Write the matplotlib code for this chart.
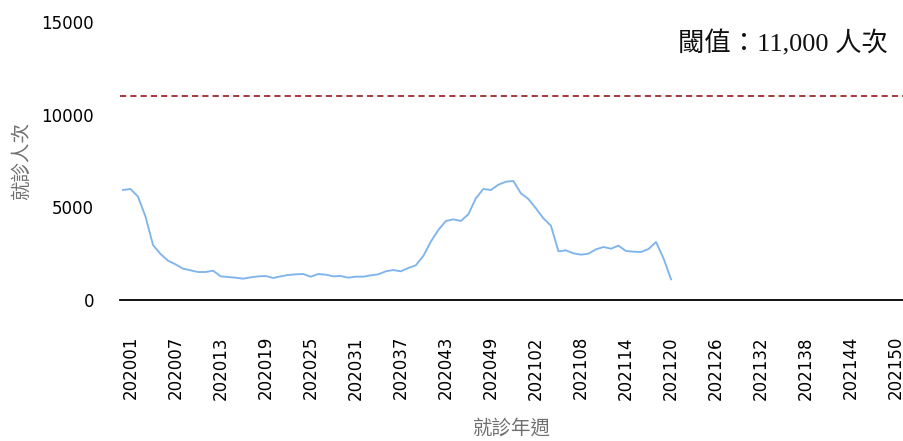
import matplotlib
matplotlib.use("Agg")
import matplotlib.pyplot as plt

# ---- data ----
weeks_2020 = [f"2020{w:02d}" for w in range(1, 54)]
weeks_2021 = [f"2021{w:02d}" for w in range(1, 53)]
weeks = ["201952"] + weeks_2020 + weeks_2021

visits = [5935, 5990, 5575, 4495, 2967, 2482, 2122, 1924, 1690, 1600,
          1510, 1510, 1582, 1276, 1240, 1205, 1150, 1222, 1276, 1295,
          1187, 1276, 1349, 1385, 1403, 1258, 1403, 1367, 1276, 1295,
          1205, 1258, 1258, 1330, 1385, 1546, 1618, 1546, 1726, 1870,
          2374, 3148, 3776, 4262, 4352, 4262, 4622, 5485, 5990, 5935,
          6220, 6384, 6420, 5755, 5449, 4946, 4406, 4010, 2625, 2679,
          2518, 2446, 2500, 2733, 2859, 2769, 2931, 2643, 2607, 2590,
          2751, 3129, 2248, 1115]

threshold = 11000
threshold_label = "閾值：11,000 人次"
tick_weeks = ["202001", "202007", "202013", "202019", "202025", "202031",
              "202037", "202043", "202049", "202102", "202108", "202114",
              "202120", "202126", "202132", "202138", "202144", "202150"]
yticks = [0, 5000, 10000, 15000]

# ---- plot ----
fig = plt.figure(figsize=(9.04, 4.41), dpi=100)
ax = fig.add_axes([120 / 904, 1 - 300 / 441, 783 / 904, 278 / 441])

x = list(range(len(visits)))
ax.plot(x, visits, color="#80B5EC", lw=1.35, zorder=3)
ax.axhline(threshold, color="#A0282A", lw=1.3, linestyle=(0, (3.4, 2.3)))

ax.set_ylim(0, 15000)
ax.set_xlim(-0.4, 103.9)
ax.set_yticks(yticks)
ax.set_yticklabels([str(v) for v in yticks])
ax.set_xticks([weeks.index(w) for w in tick_weeks])
ax.set_xticklabels(tick_weeks, rotation=90)

for s in ["top", "right", "left"]:
    ax.spines[s].set_visible(False)
ax.spines["bottom"].set_linewidth(1.3)
ax.spines["bottom"].set_color("black")

ax.tick_params(axis="x", length=0, pad=26, labelsize=12)
ax.tick_params(axis="y", length=0, pad=18.7, labelsize=12)

cjk = ["Noto Sans CJK TC", "DejaVu Sans"]
ax.set_ylabel("就診人次", family=cjk, fontsize=14, color="#707070")
ax.yaxis.set_label_coords(-0.1124, 0.5)
ax.set_xlabel("就診年週", family=cjk, fontsize=14, color="#707070")
ax.xaxis.set_label_coords(0.5, -0.4245)

ax.text(0.981, 0.924, threshold_label, transform=ax.transAxes,
        ha="right", va="center", fontsize=19,
        family=["Liberation Serif", "Noto Sans CJK TC"], color="#111111")

fig.savefig("out.png", dpi=100)
